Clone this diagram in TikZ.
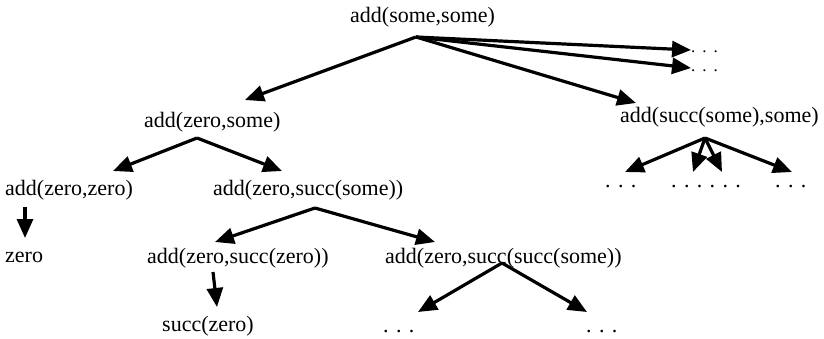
\documentclass[tikz,border=0pt]{standalone}
\usepackage{fontspec}
\setmainfont{Liberation Serif}
\usetikzlibrary{arrows.meta}
\begin{document}
\begin{tikzpicture}[x=1pt,y=-1pt,
  lbl/.style={inner sep=0pt,anchor=base west,font=\fontsize{22}{26}\selectfont},
  dots/.style={lbl,text height=3pt,text depth=0pt},
  smalldots/.style={inner sep=0pt,anchor=base west,font=\fontsize{17}{18}\selectfont,text height=3pt,text depth=0pt},
  edge/.style={line width=3.2pt,-{Triangle[length=19pt,width=16pt]}}]
\useasboundingbox (0,0) rectangle (824,338);
% nodes
\node[lbl] (root) at (350,22) {add(some,some)};
\node[lbl] (zs) at (144,127) {add(zero,some)};
\node[lbl] (ss) at (620,122) {add(succ(some),some)};
\node[lbl] (zz) at (5,195) {add(zero,zero)};
\node[lbl] (zsu) at (213,195) {add(zero,succ(some))};
\node[lbl] (zero) at (5,262) {zero};
\node[lbl] (zsz) at (147,263) {add(zero,succ(zero))};
\node[lbl] (zssu) at (385,263) {add(zero,succ(succ(some))};
\node[lbl] (sz) at (162,331) {succ(zero)};
\node[smalldots] (d1) at (691,52) {.\hspace{7pt}.\hspace{7pt}.};
\node[smalldots] (d2) at (691,71) {.\hspace{7pt}.\hspace{7pt}.};
\node[dots] (d3) at (605,187) {. . .};
\node[dots] (d4) at (671,187) {. . . . . .};
\node[dots] (d5) at (775,187) {. . .};
\node[dots] (d6) at (383,332) {. . .};
\node[dots] (d7) at (586,332) {. . .};
% branch points and tips
\coordinate (b0) at (416,37);
\coordinate (t01) at (245,100);
\coordinate (t02) at (636,103);
\coordinate (t03) at (691,50);
\coordinate (t04) at (691,68);
\coordinate (b1) at (197,138);
\coordinate (t11) at (113,171);
\coordinate (t12) at (282,171);
\coordinate (b2) at (705,138);
\coordinate (t21) at (625,172);
\coordinate (t22) at (693,172);
\coordinate (t23) at (722,172);
\coordinate (t24) at (792,172);
\coordinate (b3) at (25,207);
\coordinate (t31) at (25,238);
\coordinate (b4) at (315,208);
\coordinate (t41) at (215,242);
\coordinate (t42) at (435,242);
\coordinate (b5) at (213,272);
\coordinate (t51) at (217,307);
\coordinate (b6) at (502,263);
\coordinate (t61) at (418,312);
\coordinate (t62) at (587,312);
% edges
\draw[edge] (b0) -- (t01);
\draw[edge] (b0) -- (t02);
\draw[edge] (b0) -- (t03);
\draw[edge] (b0) -- (t04);
\draw[edge] (b1) -- (t11);
\draw[edge] (b1) -- (t12);
\draw[edge] (b2) -- (t21);
\draw[edge] (b2) -- (t22);
\draw[edge] (b2) -- (t23);
\draw[edge] (b2) -- (t24);
\draw[edge] (b3) -- (t31);
\draw[edge] (b4) -- (t41);
\draw[edge] (b4) -- (t42);
\draw[edge] (b5) -- (t51);
\draw[edge] (b6) -- (t61);
\draw[edge] (b6) -- (t62);
\end{tikzpicture}
\end{document}
